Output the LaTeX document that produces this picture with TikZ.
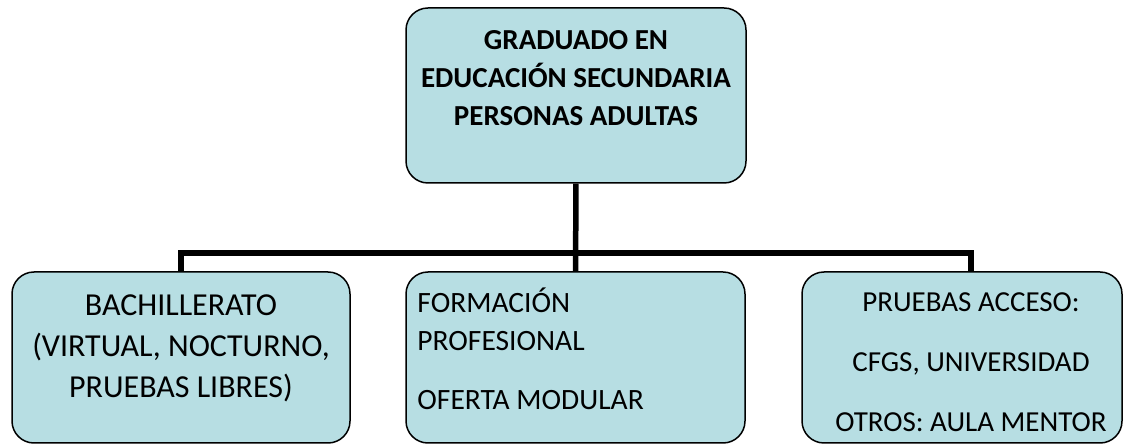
\documentclass[tikz,border=0pt]{standalone}
\usepackage{fontspec}
\setmainfont{Carlito}
\usetikzlibrary{positioning}
\definecolor{cbox}{RGB}{183,222,227}

\begin{document}
\begin{tikzpicture}[x=1pt,y=1pt,
    box/.style={rectangle, rounded corners=22pt, draw, line width=1.5pt, fill=cbox, inner sep=0pt},
    txt/.style={inner sep=0pt, align=center, font=\fontsize{29}{38}\selectfont},
    link/.style={line width=5.5pt}]
    \useasboundingbox (0,0) rectangle (1124,444);

    \node[box, minimum width=340, minimum height=175] (Graduado) at (576,348.5) {};
    \node[box, minimum width=338, minimum height=171] (Bachillerato) at (181,86.5) {};
    \node[box, minimum width=339, minimum height=171] (Formacion) at (575.5,86.5) {};
    \node[box, minimum width=320, minimum height=171] (Pruebas) at (962,86.5) {};

    \node[txt, font=\bfseries\fontsize{29}{38}\selectfont] (GraduadoText) [below=23pt of Graduado.north]
        {GRADUADO EN\\EDUCACIÓN SECUNDARIA\\PERSONAS ADULTAS};
    \node[txt, font=\fontsize{32}{41}\selectfont] (BachilleratoText) [below=23pt of Bachillerato.north]
        {BACHILLERATO\\(VIRTUAL, NOCTURNO,\\PRUEBAS LIBRES)};
    \node[txt, align=left, font=\fontsize{29.5}{38}\selectfont] (FormacionText) [below right=16pt and 12pt of Formacion.north west]
        {FORMACIÓN\\PROFESIONAL\\[21pt]OFERTA MODULAR};
    \node[txt, font=\fontsize{29}{60}\selectfont] (PruebasText) [below=21pt of Pruebas.north, xshift=9pt]
        {PRUEBAS ACCESO:\\CFGS, UNIVERSIDAD\\OTROS: AULA MENTOR};

    \coordinate (Junction) at (Graduado.south |- 0,191);
    \coordinate (PruebasTop) at ([xshift=9pt]Pruebas.north);

    \draw[link] (Graduado) -- (Formacion);
    \draw[link] (Bachillerato.north) |- (Junction) -| (PruebasTop);
  \end{tikzpicture}
\end{document}
